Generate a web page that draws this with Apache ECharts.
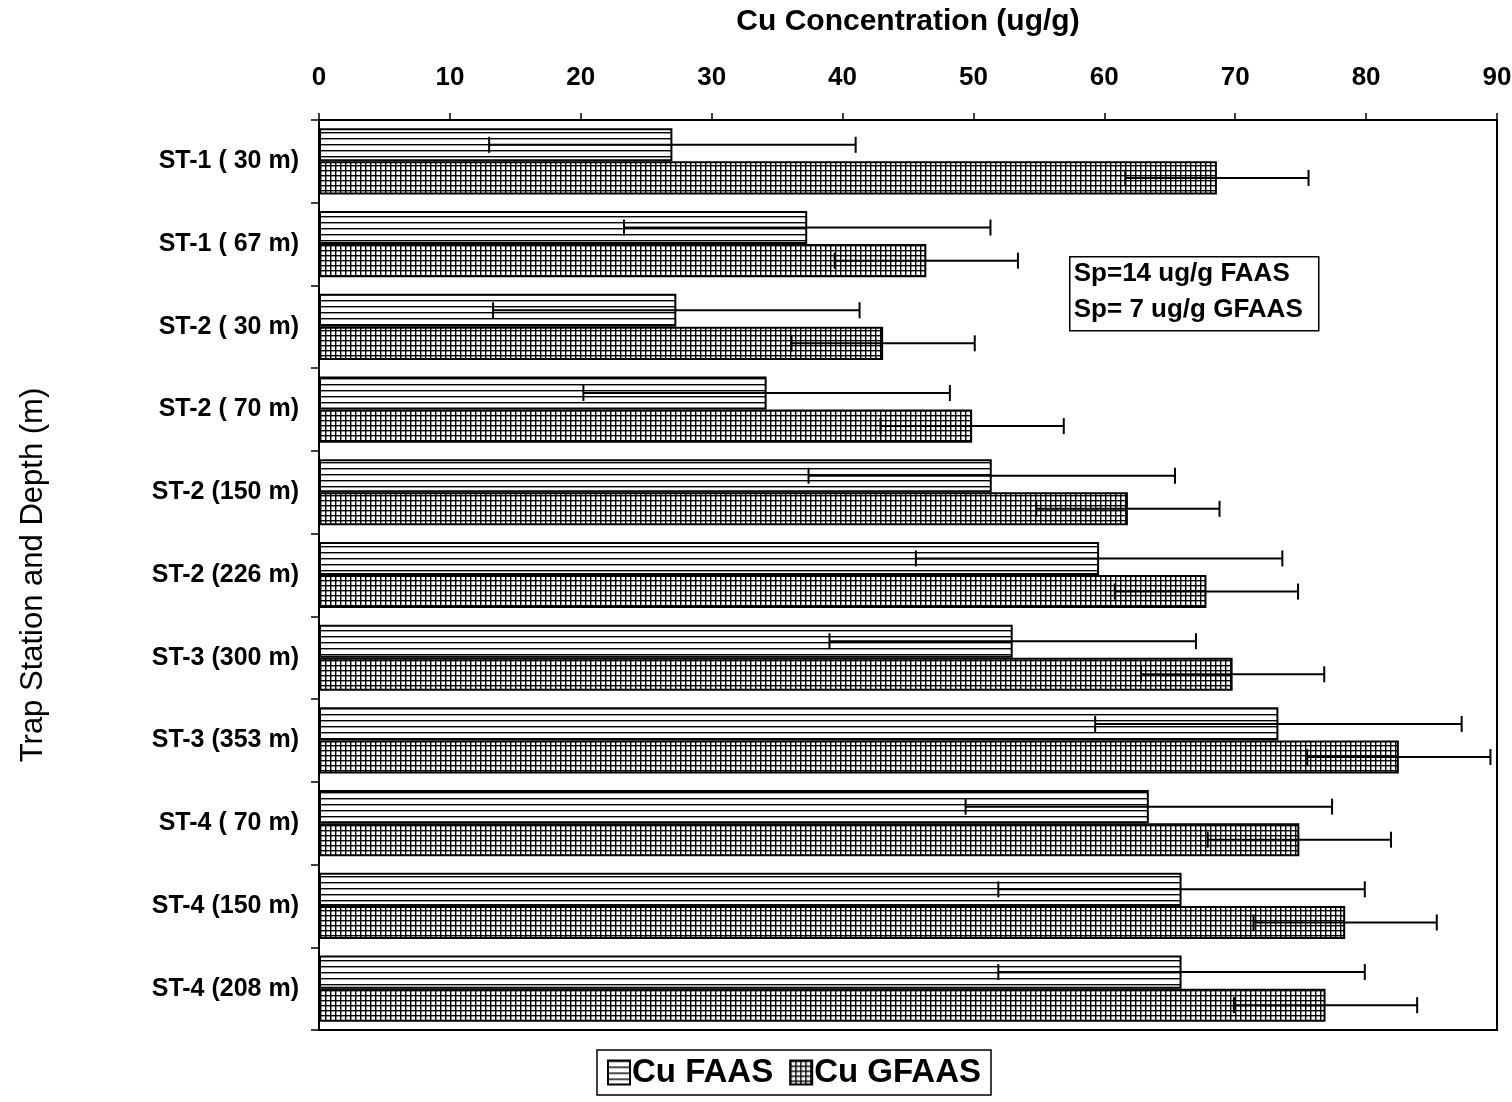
<!DOCTYPE html>
<html>
<head>
<meta charset="utf-8">
<script src="https://cdn.jsdelivr.net/npm/echarts@6/dist/echarts.min.js"></script>
<style>
  html, body { margin: 0; padding: 0; background: #fff; }
  #chart { width: 1512px; height: 1102px; }
</style>
</head>
<body>
<div id="chart"></div>
<script>
// Trap stations and depths, top to bottom
const stations = [
  'ST-1 ( 30 m)', 'ST-1 ( 67 m)', 'ST-2 ( 30 m)', 'ST-2 ( 70 m)', 'ST-2 (150 m)',
  'ST-2 (226 m)', 'ST-3 (300 m)', 'ST-3 (353 m)', 'ST-4 ( 70 m)', 'ST-4 (150 m)', 'ST-4 (208 m)'
];
// Cu concentration (ug/g) by method
const cuFaas  = [27.0, 37.3, 27.3, 34.2, 51.4, 59.6, 53.0, 73.3, 63.4, 65.9, 65.9];
const cuGfaas = [68.6, 46.4, 43.1, 49.9, 61.8, 67.8, 69.8, 82.5, 74.9, 78.4, 76.9];
// Pooled standard deviations (ug/g)
const spFaas = 14;
const spGfaas = 7;
const xTicks = [0, 10, 20, 30, 40, 50, 60, 70, 80, 90];

function makePattern(kind) {
  const c = document.createElement('canvas');
  const s = kind === 'grid' ? 5 : 6;
  c.width = s; c.height = s;
  const g = c.getContext('2d');
  g.fillStyle = '#fff';
  g.fillRect(0, 0, s, s);
  g.fillStyle = '#000';
  g.fillRect(0, 0, s, 1.4);
  if (kind === 'grid') g.fillRect(0, 0, 1.4, s);
  return c;
}
const hatchLines = { image: makePattern('lines'), repeat: 'repeat' };
const hatchGrid = { image: makePattern('grid'), repeat: 'repeat' };

const chart = echarts.init(document.getElementById('chart'));

// error bar renderer: line from value-sp to value+sp with end caps
function errRenderer(sp, offsetSign) {
  return function (params, api) {
    const idx = api.value(0);
    const v = api.value(1);
    const band = api.size([0, 1])[1];
    const barW = band * 0.8 / 2;
    const yc = api.coord([0, idx])[1] + offsetSign * barW / 2;
    const x0 = api.coord([v - sp, idx])[0];
    const x1 = api.coord([v + sp, idx])[0];
    const cap = 8;
    const st = { stroke: '#000', lineWidth: 2 };
    return {
      type: 'group',
      children: [
        { type: 'line', shape: { x1: x0, y1: yc, x2: x1, y2: yc }, style: st },
        { type: 'line', shape: { x1: x0, y1: yc - cap, x2: x0, y2: yc + cap }, style: st },
        { type: 'line', shape: { x1: x1, y1: yc - cap, x2: x1, y2: yc + cap }, style: st }
      ]
    };
  };
}

chart.setOption({
  backgroundColor: '#fff',
  animation: false,
  textStyle: { fontFamily: 'Liberation Sans, Arial, sans-serif', color: '#000' },
  grid: {
    left: 319, right: 15, top: 120, bottom: 72,
    outerBoundsMode: 'none', containLabel: false,
    show: true, borderColor: '#000', borderWidth: 2, backgroundColor: 'transparent'
  },
  xAxis: {
    type: 'value', position: 'top', min: 0, max: 90, interval: 10,
    name: 'Cu Concentration (ug/g)', nameLocation: 'middle', nameGap: 83,
    nameTextStyle: { fontSize: 30, fontWeight: 'bold', color: '#000' },
    axisLine: { show: true, lineStyle: { color: '#000', width: 2 } },
    axisTick: { show: true, inside: false, length: 7, lineStyle: { color: '#000', width: 1.5 } },
    axisLabel: {
      margin: 29, fontSize: 26, fontWeight: 'bold', color: '#000',
      fontFamily: 'Liberation Sans Narrow, Arial Narrow, sans-serif',
      formatter: v => xTicks.includes(v) ? String(v) : ''
    },
    splitLine: { show: false }
  },
  yAxis: {
    type: 'category', data: stations, inverse: true,
    name: 'Trap Station and Depth (m)', nameLocation: 'middle', nameGap: 270, nameRotate: 90,
    nameTextStyle: { fontSize: 31, color: '#000' },
    axisLine: { show: true, lineStyle: { color: '#000', width: 2 } },
    axisTick: { show: true, length: 8, lineStyle: { color: '#000', width: 1.5 } },
    axisLabel: { margin: 20, fontSize: 25, fontWeight: 'bold', color: '#000' }
  },
  legend: {
    data: ['Cu FAAS', 'Cu GFAAS'],
    left: 597, top: 1050,
    padding: [6, 10, 6, 10],
    borderColor: '#000', borderWidth: 1.5,
    itemWidth: 22, itemHeight: 24, itemGap: 16,
    icon: 'rect',
    textStyle: { fontSize: 33, fontWeight: 'bold', color: '#000', padding: [0, 0, 0, -3] }
  },
  graphic: [
    {
      type: 'group', left: 1069, top: 256,
      children: [
        { type: 'rect', shape: { x: 0, y: 0, width: 249, height: 74 },
          style: { fill: '#fff', stroke: '#000', lineWidth: 1.5 } },
        { type: 'text', x: 4, y: 4,
          style: { text: 'Sp=14 ug/g FAAS', font: 'bold 26px Liberation Sans, Arial, sans-serif', fill: '#000' } },
        { type: 'text', x: 4, y: 40,
          style: { text: 'Sp= 7 ug/g GFAAS', font: 'bold 26px Liberation Sans, Arial, sans-serif', fill: '#000' } }
      ]
    }
  ],
  series: [
    {
      name: 'Cu FAAS', type: 'bar', data: cuFaas,
      barGap: '0%', barCategoryGap: '20%',
      itemStyle: { color: hatchLines, borderColor: '#000', borderWidth: 2 }
    },
    {
      name: 'Cu GFAAS', type: 'bar', data: cuGfaas,
      itemStyle: { color: hatchGrid, borderColor: '#000', borderWidth: 2 }
    },
    {
      type: 'custom', name: 'FAAS error', silent: true, z: 5,
      renderItem: errRenderer(spFaas, -1),
      encode: { x: 1, y: 0 },
      data: cuFaas.map((v, i) => [i, v])
    },
    {
      type: 'custom', name: 'GFAAS error', silent: true, z: 5,
      renderItem: errRenderer(spGfaas, 1),
      encode: { x: 1, y: 0 },
      data: cuGfaas.map((v, i) => [i, v])
    }
  ]
});
</script>
</body>
</html>
